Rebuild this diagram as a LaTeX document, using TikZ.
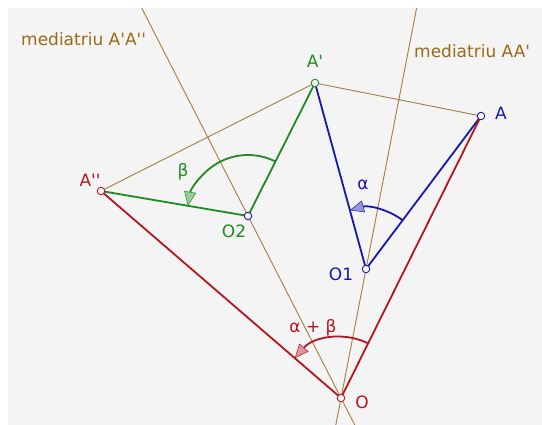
\documentclass[tikz,border=0pt]{standalone}
\usepackage{fontspec}
\newfontfamily\geofont{DejaVu Sans}
\usetikzlibrary{arrows.meta, angles}
\definecolor{bgfill}{HTML}{F4F4F4}
\definecolor{bisecttext}{HTML}{9A6A14}
\definecolor{bisectline}{HTML}{A57C40}
\definecolor{onecol}{HTML}{1717B0}
\definecolor{twocol}{HTML}{1E8C1E}
\definecolor{sumcol}{HTML}{B3161E}

\begin{document}
\begin{tikzpicture}[
  x=1pt, y=-1pt,
  font=\geofont\fontsize{17}{20}\selectfont,
  every node/.style={inner sep=0pt},
  pt/.style={
    circle, draw, line width=0.9pt,
    fill=white,
    minimum size=7.5pt, inner sep=0pt
  },
  seg/.style={line width=1.8pt, line cap=round},
  bisect/.style={line width=0.9pt, color=bisectline},
  arc/.style={
    draw=#1, line width=1.8pt, angle radius=61pt,
    -{Triangle[length=14pt, width=12pt, fill=#1!45, line width=0.5pt]}
  }
]

% =============================================================================
% Canvas (pixel grid, origin top left)
% =============================================================================
\useasboundingbox (0,0) rectangle (542,425);
\fill[bgfill] (8,8) rectangle (542,425);

% --- Points
\coordinate (A)   at (481,116);
\coordinate (Ap)  at (315,83);
\coordinate (App) at (101,191);
\coordinate (O1)  at (366,269);
\coordinate (O2)  at (248,216);
\coordinate (O)   at (341,398);

% --- Free ends of the two bisectors
\coordinate (m1top) at (416.6,8);
\coordinate (m1bot) at (335.8,425);
\coordinate (m2top) at (141.7,8);
\coordinate (m2bot) at (354.8,425);

% =============================================================================
% Bisectors and chords
% =============================================================================
\draw[bisect] (m1top) -- (m1bot);
\draw[bisect] (m2top) -- (m2bot);
\draw[bisect] (App) -- (Ap) -- (A);

% =============================================================================
% Rotations
% =============================================================================
\draw[seg, onecol] (Ap) -- (O1) -- (A);
\draw[seg, twocol] (App) -- (O2) -- (Ap);
\draw[seg, sumcol] (App) -- (O) -- (A);

\pic[arc=onecol] {angle = A--O1--Ap};
\pic[arc=twocol] {angle = Ap--O2--App};
\pic[arc=sumcol] {angle = A--O--App};

% --- Point markers
\node[pt, draw=onecol] (pA)   at (A) {};
\node[pt, draw=twocol] (pAp)  at (Ap) {};
\node[pt, draw=sumcol] (pApp) at (App) {};
\node[pt, draw=onecol] (pO1)  at (O1) {};
\node[pt, draw=onecol] (pO2)  at (O2) {};
\node[pt, draw=sumcol] (pO)   at (O) {};

% =============================================================================
% Labels
% =============================================================================
\node[text=bisecttext, anchor=west] (lm2) at (21,39) {mediatriu A'A''};
\node[text=bisecttext, anchor=west] (lm1) at (414,51) {mediatriu AA'};
\node[text=onecol] (lA)   at (501,113) {A};
\node[text=twocol] (lAp)  at (315,61) {A'};
\node[text=sumcol] (lApp) at (90,180) {A''};
\node[text=onecol] (lO1)  at (341,274) {O1};
\node[text=twocol] (lO2)  at (234,231) {O2};
\node[text=sumcol] (lO)   at (362,402) {O};
\node[text=onecol] (lalpha) at (363,185) {α};
\node[text=twocol] (lbeta)  at (183,172) {β};
\node[text=sumcol] (lsum)   at (313,328) {α + β};

\end{tikzpicture}
\end{document}
